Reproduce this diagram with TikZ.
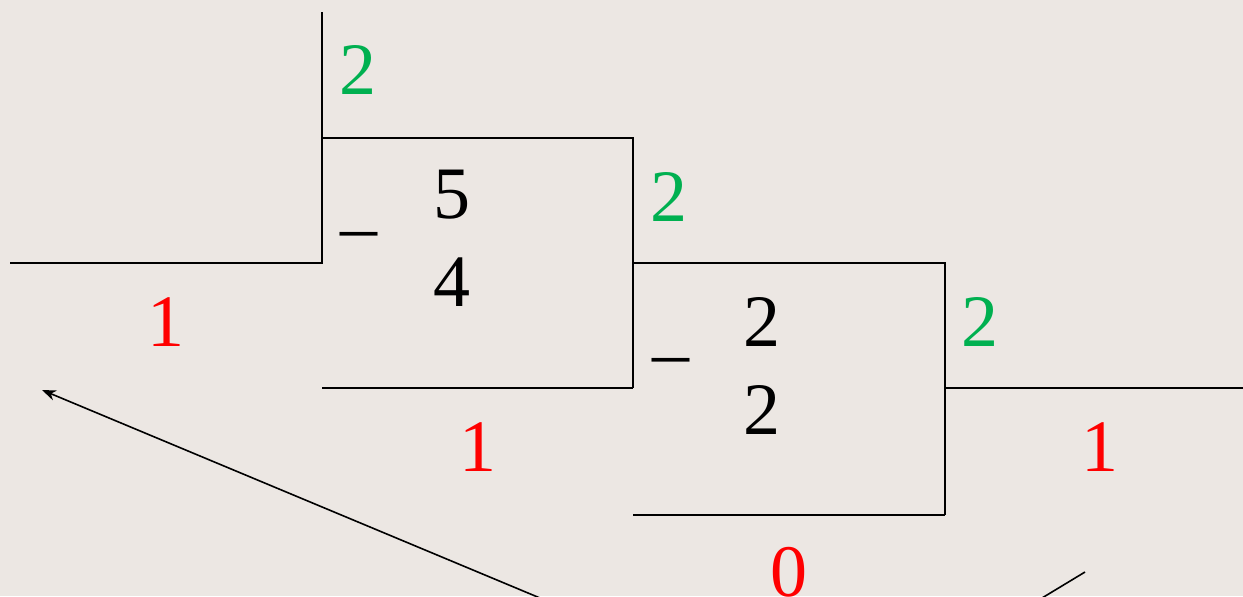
\documentclass[tikz,border=0pt]{standalone}
\usepackage{fontspec}
\usetikzlibrary{arrows.meta}
\setmainfont{Liberation Serif}
\definecolor{bgpaper}{HTML}{ECE7E3}
\definecolor{qgreen}{HTML}{00B050}
\definecolor{rred}{HTML}{FF0000}
\tikzset{
  digit/.style={font=\fontsize{37}{44}\selectfont, inner sep=0pt},
  quot/.style={digit, text=qgreen},
  rem/.style={digit, text=rred},
  rule/.style={line width=1.2pt}
}
\begin{document}
\begin{tikzpicture}[x=0.5pt,y=-0.5pt]
\fill[bgpaper] (0,0) rectangle (1243,596);
\useasboundingbox (0,0) rectangle (1243,596);

% steps of the division
\draw[rule] (10,263)--(322,263)--(322,12);
\draw[rule] (322,138)--(633,138)--(633,388);
\draw[rule] (322,388)--(633,388);
\draw[rule] (633,263)--(945,263)--(945,515);
\draw[rule] (633,515)--(945,515);
\draw[rule] (945,388)--(1243,388);

% quotient digits
\node[quot] (q1) at (358,70) {2};
\node[quot] (q2) at (669,197) {2};
\node[quot] (q3) at (980,322) {2};

% remainders
\node[rem] (r1) at (166,322) {1};
\node[rem] (r2) at (478,447) {1};
\node[rem] (r3) at (1100,447) {1};
\node[rem] (r4) at (789,572) {0};

% subtractions
\node[digit] (m1) at (359,242) {–};
\node[digit] (a1) at (452,195) {5};
\node[digit] (b1) at (452,282) {4};
\node[digit] (m2) at (671,368) {–};
\node[digit] (a2) at (762,322) {2};
\node[digit] (b2) at (762,410) {2};

% reading direction
\coordinate (s1) at (540,598);
\coordinate (e1) at (42,390);
\coordinate (s2) at (1042,598);
\coordinate (e2) at (1085,572);
\draw[line width=0.8pt,-{Stealth[length=7pt]}] (s1)--(e1);
\draw[line width=0.8pt] (s2)--(e2);
\end{tikzpicture}
\end{document}
